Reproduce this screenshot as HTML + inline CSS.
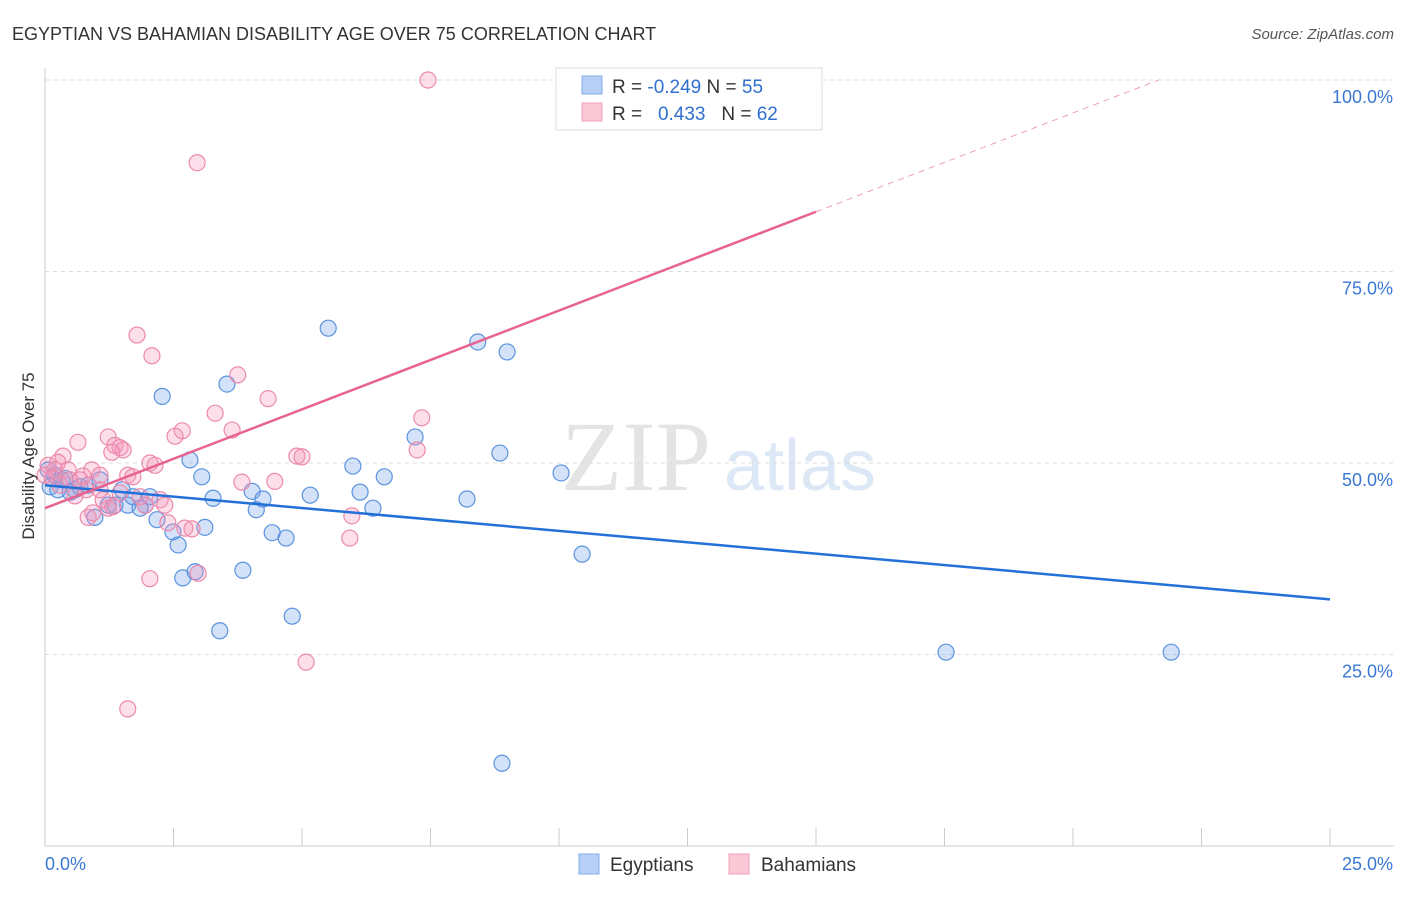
<!DOCTYPE html>
<html><head><meta charset="utf-8"><style>
body{margin:0;background:#fff;font-family:"Liberation Sans",sans-serif;}
</style></head><body>
<svg id="chart" width="1406" height="892" xmlns="http://www.w3.org/2000/svg">
<text x="12" y="40" font-size="18" fill="#333">EGYPTIAN VS BAHAMIAN DISABILITY AGE OVER 75 CORRELATION CHART</text>
<text x="1394" y="39" font-size="15" fill="#555" font-style="italic" text-anchor="end">Source: ZipAtlas.com</text>
<text x="636" y="490" font-size="100" fill="#e4e4e4" font-family="Liberation Serif,serif" text-anchor="middle">ZIP</text>
<text x="800" y="490" font-size="72" fill="#dde8f6" text-anchor="middle">atlas</text>
<g id="grid"></g><g id="axes"></g><g id="pts"></g><g id="trend"></g>
<text transform="translate(34,456) rotate(-90)" font-size="17" fill="#333" text-anchor="middle">Disability Age Over 75</text>
<g>
<rect x="556" y="68" width="266" height="62" fill="#fff" stroke="#ddd"/>
<rect x="582" y="76" width="20" height="18" fill="#b5cff5" stroke="#7faee8"/>
<rect x="582" y="103" width="20" height="18" fill="#fbc8d7" stroke="#f0a0b8"/>
<text x="612" y="93" font-size="19" fill="#333">R = <tspan fill="#2f6fd0">-0.249</tspan>   N = <tspan fill="#2f6fd0">55</tspan></text>
<text x="612" y="120" font-size="19" fill="#333" xml:space="preserve">R =   <tspan fill="#2f6fd0">0.433</tspan>   N = <tspan fill="#2f6fd0">62</tspan></text>
</g>
<g>
<rect x="579" y="854" width="20" height="20" fill="#b5cff5" stroke="#7faee8"/>
<text x="610" y="871" font-size="19" fill="#333">Egyptians</text>
<rect x="729" y="854" width="20" height="20" fill="#fbc8d7" stroke="#f0a0b8"/>
<text x="761" y="871" font-size="19" fill="#333">Bahamians</text>
</g>
</svg>
<script>
const blueX=[0.10,0.19,0.25,0.33,0.49,0.58,0.68,0.84,0.97,1.07,1.23,1.36,1.50,1.61,1.71,1.85,1.95,2.04,2.18,2.28,2.49,2.59,2.68,2.82,2.92,3.05,3.11,3.27,3.40,3.54,3.85,4.03,4.11,4.24,4.42,4.69,4.81,5.16,5.51,5.99,6.13,6.38,6.60,7.20,8.21,8.42,8.85,8.99,8.89,10.04,10.45,17.53,21.91,0.06,0.39];
const blueY=[46.9,48.4,46.5,47.8,46.2,46.5,46.9,47.1,42.9,47.8,44.5,44.5,46.5,44.5,45.6,44.1,44.5,45.6,42.6,58.7,41.0,39.3,35.0,50.4,35.8,48.2,41.6,45.4,28.1,60.3,36.0,46.3,43.9,45.3,40.9,40.2,30.0,45.8,67.6,49.6,46.2,44.1,48.2,53.4,45.3,65.8,51.3,64.5,10.8,48.7,38.1,25.3,25.3,49.1,48.0];
const pinkX=[7.45,2.96,1.79,2.08,3.75,4.34,3.31,3.64,2.67,2.53,0.64,1.23,1.36,1.46,1.52,1.30,0.35,0.06,0.25,0.45,0.91,0.74,1.07,1.61,1.71,2.04,2.14,3.83,4.47,4.90,5.00,7.33,7.24,5.97,5.93,5.08,1.61,2.04,2.98,2.39,2.72,2.86,2.24,2.33,1.23,1.13,0.84,0.93,0.58,0.19,0.29,0.49,0.68,1.32,1.85,1.95,1.46,1.07,0.80,0.0,0.14];
const pinkY=[100,89.2,66.7,64.0,61.5,58.4,56.5,54.3,54.2,53.5,52.7,53.4,52.3,52.0,51.7,51.4,50.9,49.7,50.1,49.1,49.1,48.3,48.4,48.4,48.2,50.0,49.7,47.5,47.6,50.9,50.8,55.9,51.7,43.1,40.2,24.0,17.9,34.9,35.6,42.2,41.5,41.4,45.2,44.5,44.1,45.2,42.9,43.5,45.7,49.1,47.1,47.8,47.8,44.3,45.6,44.5,46.1,46.5,46.5,48.4,48.0];
const yTicks=[25,50,75,100];
const yTickLabels=["25.0%","50.0%","75.0%","100.0%"];
const blueTrend=[47.1,32.2];
const pinkTrend=[44.1,2.58];
const NS='http://www.w3.org/2000/svg';
const sx=v=>45+v*51.4, sy=v=>846-v*7.66;
function mk(t,a,p){const e=document.createElementNS(NS,t);for(const k in a)e.setAttribute(k,a[k]);document.getElementById(p).appendChild(e);return e;}
yTicks.forEach((t,i)=>{
  const l=mk('line',{x1:45,x2:1394,y1:sy(t),y2:sy(t),stroke:'#ddd','stroke-dasharray':'4,4'},'grid');
  
  
  const tx=mk('text',{x:1393,y:sy(t)+23,'font-size':18,fill:'#3a78d4','text-anchor':'end'},'axes');
  tx.textContent=yTickLabels[i];
  
  
});
mk('line',{x1:45,x2:45,y1:68,y2:846,stroke:'#ccc'},'axes');
mk('line',{x1:45,x2:1394,y1:846,y2:846,stroke:'#ccc'},'axes');
for(let i=0;i<=10;i++){mk('line',{x1:sx(i*2.5),x2:sx(i*2.5),y1:828,y2:846,stroke:'#ccc'},'axes');}
let t0=mk('text',{x:45,y:870,'font-size':18,fill:'#3a78d4'},'axes');t0.textContent='0.0%';


let t1=mk('text',{x:1393,y:870,'font-size':18,fill:'#3a78d4','text-anchor':'end'},'axes');t1.textContent='25.0%';


blueX.forEach((x,i)=>{const c=mk('circle',{cx:sx(x),cy:sy(blueY[i]),r:8,fill:'rgba(110,160,235,0.3)',stroke:'#5a93dd','stroke-width':1.2},'pts');
  
  });
pinkX.forEach((x,i)=>{const c=mk('circle',{cx:sx(x),cy:sy(pinkY[i]),r:8,fill:'rgba(245,150,185,0.3)',stroke:'#ec8aac','stroke-width':1.2},'pts');
  
  });
let bl=mk('line',{x1:sx(0),y1:sy(blueTrend[0]),x2:sx(25),y2:sy(blueTrend[1]),stroke:'#2270d8','stroke-width':2.5},'trend');


const pf=x=>pinkTrend[0]+pinkTrend[1]*x, xEnd=(100-pinkTrend[0])/pinkTrend[1];
let pl=mk('line',{x1:sx(0),y1:sy(pf(0)),x2:sx(15),y2:sy(pf(15)),stroke:'#e8628f','stroke-width':2.5},'trend');


let pd=mk('line',{x1:sx(15),y1:sy(pf(15)),x2:sx(xEnd),y2:sy(100),stroke:'#eaa0b8','stroke-width':1,'stroke-dasharray':'6,5'},'trend');


</script>
</body></html>
